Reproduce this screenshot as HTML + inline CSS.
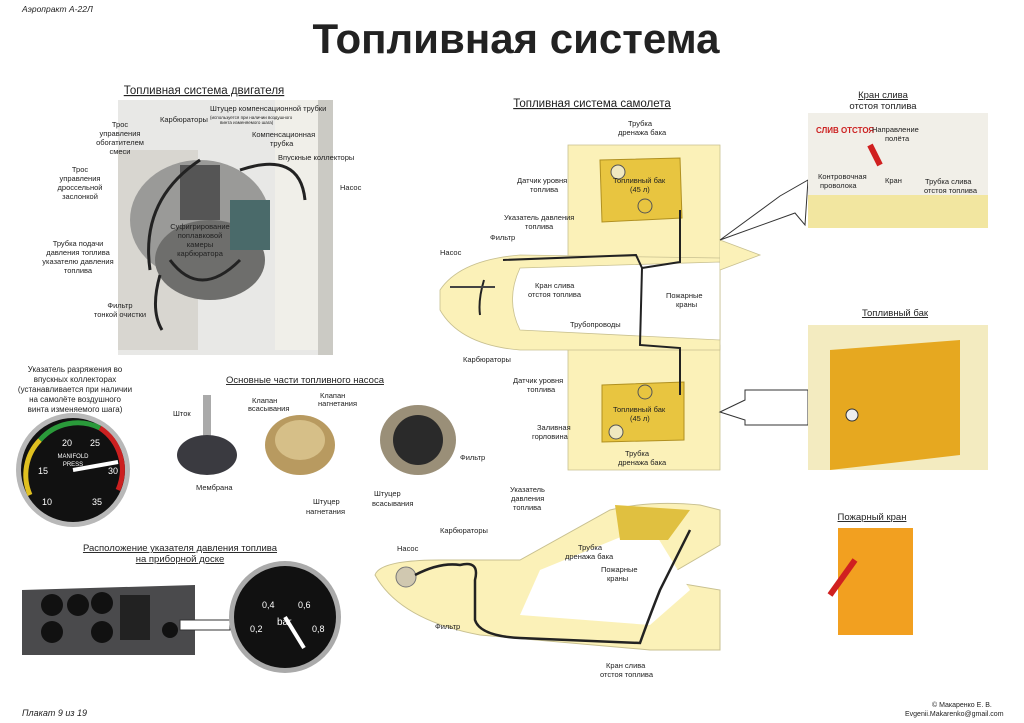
<!DOCTYPE html>
<html><head><meta charset="utf-8"><style>
html,body{margin:0;padding:0;background:#fff}
svg{display:block}
text{font-family:"Liberation Sans",sans-serif;fill:#222}
.s{font-size:7.5px}
.h{font-size:11.5px;text-decoration:underline}
</style></head><body>
<svg width="1024" height="723" viewBox="0 0 1024 723" xmlns="http://www.w3.org/2000/svg">
<rect width="1024" height="723" fill="#fff"/>
<text x="22" y="12" font-size="8.5" font-style="italic" font-family="Liberation Serif">Аэропракт А-22Л</text>
<text x="516" y="53" font-size="42" font-weight="bold" text-anchor="middle" fill="#1a1a1a">Топливная система</text>
<text x="204" y="94" class="h" text-anchor="middle" font-size="13">Топливная система двигателя</text>
<text x="592" y="107" class="h" text-anchor="middle" font-size="13">Топливная система самолета</text>

<!-- engine photo -->
<rect x="118" y="100" width="215" height="255" fill="#e8e8e6"/>
<rect x="118" y="150" width="80" height="200" fill="#d8d6d0"/>
<ellipse cx="200" cy="220" rx="70" ry="60" fill="#9a9a98"/>
<ellipse cx="210" cy="260" rx="55" ry="40" fill="#6e6e6c"/>
<rect x="180" y="165" width="40" height="55" fill="#555"/>
<rect x="230" y="200" width="40" height="50" fill="#4a6a6a"/>
<circle cx="307" cy="208" r="10" fill="#c2a468"/>
<rect x="275" y="100" width="55" height="250" fill="#f0efe9"/>
<rect x="318" y="100" width="15" height="255" fill="#cbcac4"/>
<path d="M160 275 Q150 310 162 330 M200 160 Q140 200 150 270 M240 170 Q300 150 305 200 M170 260 Q200 300 240 260" stroke="#222" stroke-width="3" fill="none"/>
<text x="120" y="127" class="s" text-anchor="middle">Трос</text><text x="120" y="136" class="s" text-anchor="middle">управления</text><text x="120" y="145" class="s" text-anchor="middle">обогатителем</text><text x="120" y="154" class="s" text-anchor="middle">смеси</text>
<text x="160" y="122" class="s">Карбюраторы</text>
<text x="210" y="111" class="s">Штуцер компенсационной трубки</text>
<text x="210" y="119" font-size="4.5">(используется при наличии воздушного</text>
<text x="220" y="124" font-size="4.5">винта изменяемого шага)</text>
<text x="252" y="137" class="s">Компенсационная</text><text x="270" y="146" class="s">трубка</text>
<text x="278" y="160" class="s">Впускные коллекторы</text>
<text x="340" y="190" class="s">Насос</text>
<text x="80" y="172" class="s" text-anchor="middle">Трос</text><text x="80" y="181" class="s" text-anchor="middle">управления</text><text x="80" y="190" class="s" text-anchor="middle">дроссельной</text><text x="80" y="199" class="s" text-anchor="middle">заслонкой</text>
<text x="200" y="229" class="s" text-anchor="middle">Суфигрирование</text><text x="200" y="238" class="s" text-anchor="middle">поплавковой</text><text x="200" y="247" class="s" text-anchor="middle">камеры</text><text x="200" y="256" class="s" text-anchor="middle">карбюратора</text>
<text x="78" y="246" class="s" text-anchor="middle">Трубка подачи</text><text x="78" y="255" class="s" text-anchor="middle">давления топлива</text><text x="78" y="264" class="s" text-anchor="middle">указателю давления</text><text x="78" y="273" class="s" text-anchor="middle">топлива</text>
<text x="120" y="308" class="s" text-anchor="middle">Фильтр</text><text x="120" y="317" class="s" text-anchor="middle">тонкой очистки</text>

<!-- manifold gauge -->
<text x="75" y="372" font-size="8" text-anchor="middle">Указатель разряжения во</text>
<text x="75" y="382" font-size="8" text-anchor="middle">впускных коллекторах</text>
<text x="75" y="392" font-size="8" text-anchor="middle">(устанавливается при наличии</text>
<text x="75" y="402" font-size="8" text-anchor="middle">на самолёте воздушного</text>
<text x="75" y="412" font-size="8" text-anchor="middle">винта изменяемого шага)</text>
<circle cx="73" cy="470" r="57" fill="#b8b8b8"/>
<circle cx="73" cy="470" r="52" fill="#111"/>
<path d="M30 495 A50 50 0 0 1 40 440" stroke="#e0c020" stroke-width="5" fill="none"/>
<path d="M40 440 A50 50 0 0 1 100 428" stroke="#2a9a3a" stroke-width="5" fill="none"/>
<path d="M100 428 A50 50 0 0 1 118 490" stroke="#cc2020" stroke-width="5" fill="none"/>
<text x="62" y="446" font-size="9" style="fill:#fff">20</text><text x="90" y="446" font-size="9" style="fill:#fff">25</text>
<text x="38" y="474" font-size="9" style="fill:#fff">15</text><text x="108" y="474" font-size="9" style="fill:#fff">30</text>
<text x="42" y="505" font-size="9" style="fill:#fff">10</text><text x="92" y="505" font-size="9" style="fill:#fff">35</text>
<text x="73" y="458" font-size="6" text-anchor="middle" style="fill:#fff">MANIFOLD</text><text x="73" y="466" font-size="6" text-anchor="middle" style="fill:#fff">PRESS</text>
<line x1="73" y1="470" x2="118" y2="462" stroke="#fff" stroke-width="4"/>

<!-- pump parts -->
<text x="305" y="383" font-size="9.5" text-anchor="middle" text-decoration="underline">Основные части топливного насоса</text>
<rect x="203" y="395" width="8" height="45" fill="#aaa"/>
<ellipse cx="207" cy="455" rx="30" ry="20" fill="#3a3a40"/>
<ellipse cx="300" cy="445" rx="35" ry="30" fill="#b89a60"/>
<ellipse cx="300" cy="440" rx="25" ry="20" fill="#d6bf88"/>
<ellipse cx="418" cy="440" rx="38" ry="35" fill="#9a8f78"/>
<ellipse cx="418" cy="440" rx="25" ry="25" fill="#2a2a2a"/>
<text x="173" y="416" class="s">Шток</text>
<text x="252" y="403" class="s">Клапан</text><text x="248" y="411" class="s">всасывания</text>
<text x="320" y="398" class="s">Клапан</text><text x="318" y="406" class="s">нагнетания</text>
<text x="460" y="460" class="s">Фильтр</text>
<text x="196" y="490" class="s">Мембрана</text>
<text x="313" y="504" class="s">Штуцер</text><text x="306" y="514" class="s">нагнетания</text>
<text x="374" y="496" class="s">Штуцер</text><text x="372" y="506" class="s">всасывания</text>

<!-- panel + fuel gauge -->
<text x="180" y="551" font-size="9.5" text-anchor="middle" text-decoration="underline">Расположение указателя давления топлива</text>
<text x="180" y="562" font-size="9.5" text-anchor="middle" text-decoration="underline">на приборной доске</text>
<path d="M22 590 L195 585 L195 655 L22 655 Z" fill="#4a4a4c"/>
<circle cx="52" cy="605" r="11" fill="#111"/><circle cx="78" cy="605" r="11" fill="#111"/><circle cx="102" cy="603" r="11" fill="#111"/>
<circle cx="52" cy="632" r="11" fill="#111"/><circle cx="102" cy="632" r="11" fill="#111"/>
<rect x="120" y="595" width="30" height="45" fill="#222"/><circle cx="170" cy="630" r="8" fill="#111"/>
<polygon points="180,620 230,620 230,630 180,630" fill="#fff" stroke="#333"/>
<circle cx="285" cy="617" r="56" fill="#aaa"/><circle cx="285" cy="617" r="51" fill="#111"/>
<text x="262" y="608" font-size="9" style="fill:#fff">0,4</text><text x="298" y="608" font-size="9" style="fill:#fff">0,6</text>
<text x="250" y="632" font-size="9" style="fill:#fff">0,2</text><text x="312" y="632" font-size="9" style="fill:#fff">0,8</text>
<text x="277" y="625" font-size="10" style="fill:#fff">bar</text>
<line x1="285" y1="617" x2="304" y2="648" stroke="#fff" stroke-width="4"/>

<!-- aircraft top view -->
<g stroke="#c8c090" stroke-width="0.8">
<path d="M568 145 L720 145 L720 262 L568 262 Z" fill="#fbf1b8"/>
<path d="M568 345 L720 345 L720 470 L568 470 Z" fill="#fbf1b8"/>
<path d="M440 290 Q460 260 520 255 L720 258 L720 350 L520 350 Q460 345 440 310 Z" fill="#fbf1b8"/>
<path d="M520 268 L720 262 L720 340 L520 330 Q505 300 520 268Z" fill="#fff"/>
<path d="M720 240 L760 255 L720 270" fill="#fbf1b8"/>
</g>
<path d="M600 160 L680 158 L682 218 L602 222 Z" fill="#e8c540" stroke="#b09020"/>
<path d="M602 385 L684 382 L684 440 L602 442 Z" fill="#e8c540" stroke="#b09020"/>
<circle cx="618" cy="172" r="7" fill="#f0e8c0" stroke="#555"/><circle cx="645" cy="206" r="7" fill="none" stroke="#555"/>
<circle cx="645" cy="392" r="7" fill="none" stroke="#555"/><circle cx="616" cy="432" r="7" fill="#f0e8c0" stroke="#555"/>
<path d="M503 260 L636 255 L642 268 L640 345 L680 348 L680 395 M642 268 L680 262 L680 210 M484 280 Q478 300 480 315" stroke="#222" stroke-width="2" fill="none"/>
<path d="M450 287 L495 287" stroke="#444" stroke-width="2"/>
<text x="613" y="183" class="s">Топливный бак</text><text x="630" y="192" class="s">(45 л)</text>
<text x="613" y="412" class="s">Топливный бак</text><text x="630" y="421" class="s">(45 л)</text>
<text x="628" y="126" class="s">Трубка</text><text x="618" y="135" class="s">дренажа бака</text>
<text x="517" y="183" class="s">Датчик уровня</text><text x="530" y="192" class="s">топлива</text>
<text x="504" y="220" class="s">Указатель давления</text><text x="525" y="229" class="s">топлива</text>
<text x="490" y="240" class="s">Фильтр</text><text x="440" y="255" class="s">Насос</text>
<text x="535" y="288" class="s">Кран слива</text><text x="528" y="297" class="s">отстоя топлива</text>
<text x="666" y="298" class="s">Пожарные</text><text x="676" y="307" class="s">краны</text>
<text x="570" y="327" class="s">Трубопроводы</text><text x="463" y="362" class="s">Карбюраторы</text>
<text x="513" y="383" class="s">Датчик уровня</text><text x="527" y="392" class="s">топлива</text>
<text x="537" y="430" class="s">Заливная</text><text x="532" y="439" class="s">горловина</text>
<text x="625" y="456" class="s">Трубка</text><text x="618" y="465" class="s">дренажа бака</text>
<path d="M720 240 L795 213 L805 225 L808 180 L780 196 Z" fill="#fff" stroke="#333"/>
<path d="M720 412 L745 400 L745 390 L808 390 L808 425 L745 425 L745 420 Z" fill="#fff" stroke="#333"/>

<!-- side view -->
<path d="M375 575 Q380 560 440 560 L520 560 L610 510 Q650 500 700 505 L720 510 L720 545 L660 580 L720 590 L720 650 L650 650 L480 635 Q400 620 375 575 Z" fill="#fbf1b8" stroke="#c8c090"/>
<path d="M540 570 L650 525 L690 590 L650 625 L520 615 Z" fill="#fff"/>
<path d="M615 505 L690 510 L668 540 L620 540 Z" fill="#e0c040"/>
<circle cx="406" cy="577" r="10" fill="#d0c8b0" stroke="#777"/>
<path d="M415 575 Q440 562 460 565 Q480 560 475 580 L475 620 Q480 636 520 638 L640 643 Q650 615 660 590 L690 530" stroke="#222" stroke-width="2.5" fill="none"/>
<text x="397" y="551" class="s">Насос</text><text x="440" y="533" class="s">Карбюраторы</text>
<text x="510" y="492" class="s">Указатель</text><text x="511" y="501" class="s">давления</text><text x="513" y="510" class="s">топлива</text>
<text x="578" y="550" class="s">Трубка</text><text x="565" y="559" class="s">дренажа бака</text>
<text x="601" y="572" class="s">Пожарные</text><text x="607" y="581" class="s">краны</text>
<text x="435" y="629" class="s">Фильтр</text>
<text x="606" y="668" class="s">Кран слива</text><text x="600" y="677" class="s">отстоя топлива</text>

<!-- right photos -->
<text x="883" y="98" font-size="9.5" text-anchor="middle" text-decoration="underline">Кран слива</text>
<text x="883" y="109" font-size="9.5" text-anchor="middle">отстоя топлива</text>
<rect x="808" y="113" width="180" height="115" fill="#f1efe8"/>
<rect x="808" y="195" width="180" height="33" fill="#f2e6a0"/>
<text x="816" y="133" font-size="8" font-weight="bold" style="fill:#cc2020">СЛИВ ОТСТОЯ</text>
<path d="M870 145 L880 165" stroke="#d02020" stroke-width="6"/>
<text x="872" y="132" class="s">Направление</text><text x="885" y="141" class="s">полёта</text>
<text x="818" y="179" class="s">Контровочная</text><text x="820" y="188" class="s">проволока</text>
<text x="885" y="183" class="s">Кран</text>
<text x="925" y="184" class="s">Трубка слива</text><text x="924" y="193" class="s">отстоя топлива</text>
<text x="895" y="316" font-size="9.5" text-anchor="middle" text-decoration="underline">Топливный бак</text>
<rect x="808" y="325" width="180" height="145" fill="#f3ebc0"/>
<path d="M830 350 L960 340 L960 455 L830 470 Z" fill="#e6a820"/>
<circle cx="852" cy="415" r="6" fill="#eee" stroke="#333"/>
<text x="872" y="520" font-size="9.5" text-anchor="middle" text-decoration="underline">Пожарный кран</text>
<rect x="838" y="528" width="75" height="107" fill="#f2a020"/>
<path d="M855 560 L830 595" stroke="#d02020" stroke-width="6"/>
<text x="932" y="707" font-size="7" font-family="Liberation Serif">© Макаренко Е. В.</text>
<text x="905" y="716" font-size="7" font-family="Liberation Serif">Evgenii.Makarenko@gmail.com</text>
<text x="22" y="716" font-size="9" font-style="italic" font-family="Liberation Serif">Плакат 9 из 19</text>
</svg>
</body></html>
